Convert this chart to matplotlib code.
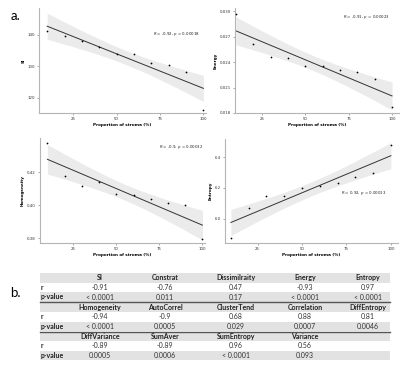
import numpy as np
import matplotlib
matplotlib.use('Agg')
import matplotlib.pyplot as plt

W, H = 400, 368

stroma = [10, 20, 30, 40, 50, 60, 70, 80, 90, 100]

si = [141.4, 139.7, 138.1, 136.3, 133.8, 133.8, 131.2, 130.4, 128.1, 116.0]
energy = [0.0297, 0.0261, 0.0246, 0.0245, 0.0236, 0.0235, 0.0231, 0.0228, 0.0220, 0.0187]
homogeneity = [0.4376, 0.4177, 0.4115, 0.4140, 0.4066, 0.4060, 0.4036, 0.4010, 0.4000, 0.3795]
entropy = [5.87, 6.07, 6.145, 6.145, 6.20, 6.21, 6.235, 6.27, 6.30, 6.48]

stat_r = ['-0.92', '-0.91', '-0.9', '0.92']
stat_p = ['0.00018', '0.00023', '0.00032', '0.00013']

# table data
tbl_headers = [['SI', 'Constrat', 'Dissimilraity', 'Energy', 'Entropy'],
               ['Homogeneity', 'AutoCorrel', 'ClusterTend', 'Correlation', 'DiffEntropy'],
               ['DiffVariance', 'SumAver', 'SumEntropy', 'Variance', '']]
tbl_r = [['-0.91', '-0.76', '0.47', '-0.93', '0.97'],
         ['-0.94', '-0.9', '0.68', '0.88', '0.81'],
         ['-0.89', '-0.89', '0.96', '0.56', '']]
tbl_p = [['< 0.0001', '0.011', '0.17', '< 0.0001', '< 0.0001'],
         ['< 0.0001', '0.0005', '0.029', '0.0007', '0.0046'],
         ['0.0005', '0.0006', '< 0.0001', '0.093', '']]

fig = plt.figure(figsize=(W / 100, H / 100), dpi=100)


def px_axes(left, right, top, bottom):
    return fig.add_axes([left / W, 1 - bottom / H, (right - left) / W, (bottom - top) / H])


def panel(box, y, ylabel, xlim, ylim, yticks, yfmt, i, txt_pos):
    ax = px_axes(*box)
    x = np.array(stroma, dtype=float)
    y = np.array(y, dtype=float)
    n = len(x)
    b, a = np.polyfit(x, y, 1)
    xs = np.linspace(x.min(), x.max(), 100)
    fit = a + b * xs
    resid = y - (a + b * x)
    s = np.sqrt(np.sum(resid ** 2) / (n - 2))
    sxx = np.sum((x - x.mean()) ** 2)
    se = s * np.sqrt(1 / n + (xs - x.mean()) ** 2 / sxx)
    ax.fill_between(xs, fit - 2.306 * se, fit + 2.306 * se, color='#ebebeb', lw=0)
    ax.plot(xs, fit, color='#333333', lw=0.7)
    ax.scatter(x, y, s=1.6, color='black', zorder=3, lw=0)
    ax.set_xlim(*xlim)
    ax.set_ylim(*ylim)
    ax.set_xticks([25, 50, 75, 100])
    ax.set_yticks(yticks)
    ax.set_yticklabels([yfmt.format(v) for v in yticks])
    for sp in ['top', 'right']:
        ax.spines[sp].set_visible(False)
    for sp in ['left', 'bottom']:
        ax.spines[sp].set_color('#b5b5b5')
        ax.spines[sp].set_linewidth(0.8)
    ax.tick_params(length=1.5, width=0.5, color='#888888', labelsize=2.8,
                   labelcolor='#333333', pad=1.5)
    ax.set_xlabel('Proportion of stroma (%)', fontsize=3, fontweight='bold', labelpad=1.5)
    ax.set_ylabel(ylabel, fontsize=3, fontweight='bold', labelpad=1.5)
    txt = '$\\it{R}$ = ' + stat_r[i] + ', $\\it{p}$ = ' + stat_p[i]
    ax.text(txt_pos[0], txt_pos[1], txt, transform=ax.transAxes, fontsize=2.8,
            ha='center', va='center', color='#222222')
    return ax


panel((39, 206, 8, 113), si, 'SI', (5.3, 101.5), (115.1, 148.6), [120, 130, 140], '{:.0f}',
      0, (0.823, 0.752))
panel((235, 400, 8, 113), energy, 'Energy', (9.5, 104.6), (0.018, 0.0304),
      [0.018, 0.021, 0.024, 0.027, 0.030], '{:.3f}', 1, (0.794, 0.914))
panel((40, 205, 138, 243), homogeneity, 'Homogeneity', (5.7, 101.5), (0.377, 0.4406),
      [0.38, 0.40, 0.42], '{:.2f}', 2, (0.855, 0.914))
panel((225, 398, 139, 243), entropy, 'Entropy', (6.7, 104), (5.84, 6.52),
      [6.0, 6.2, 6.4], '{:.1f}', 3, (0.80, 0.48))

fig.text(11 / W, 1 - 16 / H, 'a.', fontsize=9.5, va='center', ha='left', family='Lato')
fig.text(10 / W, 1 - 293 / H, 'b.', fontsize=9.5, va='center', ha='left', family='Lato')

# table
tax = fig.add_axes([0, 0, 1, 1])
tax.set_xlim(0, W)
tax.set_ylim(H, 0)
tax.axis('off')
col_x = [100, 165, 236, 305, 368]
row_h = 9.6
top = 273
for blk in range(3):
    y0 = top + blk * 3 * row_h + blk * 0.5
    tax.add_patch(plt.Rectangle((40, y0), 350, row_h, color='#e2e2e2', lw=0))
    tax.add_patch(plt.Rectangle((40, y0 + 2 * row_h), 350, row_h, color='#e2e2e2', lw=0))
    if blk > 0:
        tax.plot([40, 390], [y0, y0], color='#555555', lw=1.0)
    for j, cx in enumerate(col_x):
        tax.text(cx, y0 + row_h / 2, tbl_headers[blk][j], ha='center', va='center',
                 fontsize=5, fontweight='bold', family='Lato', color='#222222')
        tax.text(cx, y0 + 1.5 * row_h, tbl_r[blk][j], ha='center', va='center',
                 fontsize=5, family='Lato', color='#333333')
        tax.text(cx, y0 + 2.5 * row_h, tbl_p[blk][j], ha='center', va='center',
                 fontsize=5, family='Lato', color='#333333')
    tax.text(41, y0 + 1.5 * row_h, 'r', ha='left', va='center', fontsize=5,
             fontweight='bold', family='Lato', color='#222222')
    tax.text(41, y0 + 2.5 * row_h, 'p-value', ha='left', va='center', fontsize=5,
             fontweight='bold', family='Lato', color='#222222')

fig.savefig('out.png', dpi=100)
